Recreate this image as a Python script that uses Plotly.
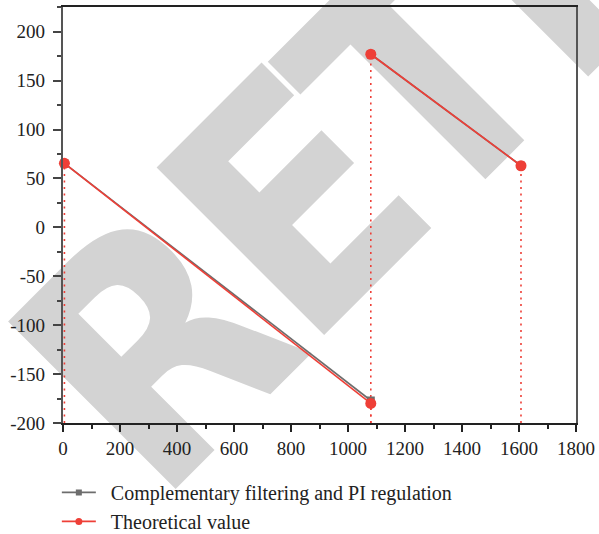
import plotly.graph_objects as go

# ---- data ----
x_points = [5, 1080, 1080, 1607]
y_pi_regulation = [65.5, -177, 177, 63]
y_theoretical = [65.5, -180, 177, 63]
break_after = 1  # the curve wraps from -180 to +180 after this point

series_names = ["Complementary filtering and PI regulation", "Theoretical value"]

x_tickvals = [0, 200, 400, 600, 800, 1000, 1200, 1400, 1600, 1800]
x_ticktext = ["0", "200", "400", "600", "800", "1000", "1200", "1400", "1600", "1800"]
y_tickvals = [-200, -150, -100, -50, 0, 50, 100, 150, 200]
y_ticktext = ["-200", "-150", "-100", "-50", "0", "50", "100", "150", "200"]

watermark_letters = ["R", "E", "T", "R"]
watermark_centers = [(0.151, 0.2175), (0.423, 0.566), (0.6745, 0.863), (0.9552, 1.209)]

RED = "#EE3F37"
GRAY = "#6d6d6d"
SERIF = "Liberation Serif, Times New Roman, serif"
NBSP = "\u00a0"


def with_break(vals):
    return vals[:break_after + 1] + [None] + vals[break_after + 1:]


fig = go.Figure()

# drop lines (dotted red, from the x axis up to each theoretical point)
drop_x, drop_y = [], []
for xv, yv in zip(x_points, y_theoretical):
    drop_x += [xv, xv, None]
    drop_y += [y_tickvals[0], yv, None]
fig.add_trace(go.Scatter(x=drop_x, y=drop_y, mode="lines",
                         line=dict(color=RED, width=1.6, dash="2px,4.5px"),
                         showlegend=False, hoverinfo="skip"))

fig.add_trace(go.Scatter(x=with_break(x_points), y=with_break(y_pi_regulation),
                         mode="lines+markers", name=series_names[0],
                         line=dict(color=GRAY, width=1.6),
                         marker=dict(symbol="square", size=8, color=GRAY),
                         cliponaxis=False, showlegend=False))
fig.add_trace(go.Scatter(x=with_break(x_points), y=with_break(y_theoretical),
                         mode="lines+markers", name=series_names[1],
                         line=dict(color=RED, width=1.6),
                         marker=dict(symbol="circle", size=11, color=RED),
                         cliponaxis=False, showlegend=False))

# legend entries (smaller symbols, as in the reference)
fig.add_trace(go.Scatter(x=[None], y=[None], mode="lines+markers", name=NBSP * 2 + series_names[0],
                         line=dict(color=GRAY, width=1.6),
                         marker=dict(symbol="square", size=6, color=GRAY)))
fig.add_trace(go.Scatter(x=[None], y=[None], mode="lines+markers", name=NBSP * 2 + series_names[1],
                         line=dict(color=RED, width=1.6),
                         marker=dict(symbol="circle", size=7, color=RED)))

# watermark, drawn below the data
for letter, (cx, cy) in zip(watermark_letters, watermark_centers):
    fig.add_shape(type="rect", xref="paper", yref="paper",
                  x0=cx - 0.001, x1=cx + 0.001, y0=cy - 0.001, y1=cy + 0.001,
                  line=dict(width=0), fillcolor="rgba(0,0,0,0)", layer="below",
                  label=dict(text=letter, textangle=-45, textposition="middle center",
                             font=dict(size=325, color="#d3d3d3", weight="bold",
                                       family="Liberation Sans Narrow, DejaVu Sans Condensed, Liberation Sans, Arial, sans-serif")))

fig.update_layout(
    width=599, height=534,
    margin=dict(l=63, r=23, t=7, b=111, autoexpand=False),
    paper_bgcolor="white", plot_bgcolor="white",
    showlegend=True,
    legend=dict(x=-0.012, xanchor="left", y=-0.12, yanchor="top",
                font=dict(family=SERIF, size=20, color="#222"),
                bgcolor="rgba(0,0,0,0)", itemwidth=34, tracegroupgap=0),
    font=dict(family=SERIF, size=19, color="#222"),
)

fig.update_xaxes(range=[0, 1800], tickmode="array", tickvals=x_tickvals, ticktext=x_ticktext,
                 showgrid=False, zeroline=False,
                 showline=True, linecolor="#222", linewidth=1.5, mirror=True,
                 ticks="outside", ticklen=7, tickwidth=1.5, tickcolor="#222",
                 minor=dict(ticks="outside", ticklen=4, tickwidth=1.5, tickcolor="#222", dtick=100, tick0=0),
                 tickfont=dict(family=SERIF, size=19, color="#222"))
fig.update_yaxes(range=[-200, 225.3], tickmode="array", tickvals=y_tickvals, ticktext=y_ticktext,
                 showgrid=False, zeroline=False,
                 showline=True, linecolor="#555", linewidth=2.2, mirror=True,
                 ticks="outside", ticklen=8, tickwidth=1.5, tickcolor="#444",
                 ticklabelstandoff=4,
                 minor=dict(ticks="outside", ticklen=4, tickwidth=1.5, tickcolor="#444", dtick=25, tick0=0),
                 tickfont=dict(family=SERIF, size=19, color="#222"))

fig.write_html("out.html")
